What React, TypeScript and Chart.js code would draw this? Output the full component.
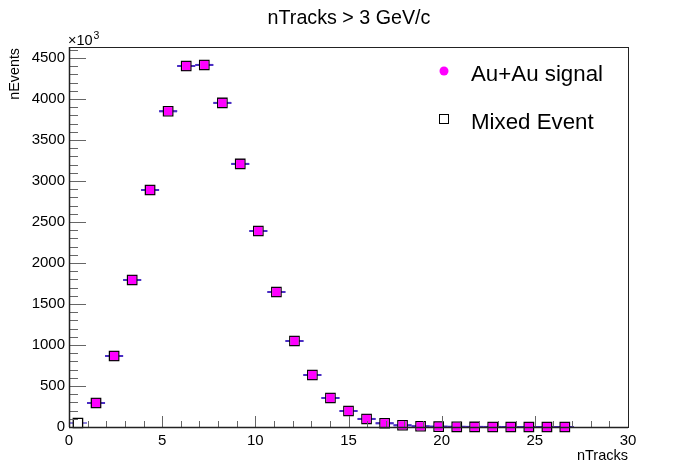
import React, { useEffect, useRef } from "react";
import { Chart, registerables } from "chart.js";

Chart.register(...registerables);

// Bin centres of the nTracks histogram (31 bins over 0..30; first 28 filled)
const binCenters = [
  0.48, 1.45, 2.42, 3.39, 4.35, 5.32, 6.29, 7.26, 8.23, 9.19, 10.16, 11.13, 12.1, 13.06,
  14.03, 15.0, 15.97, 16.94, 17.9, 18.87, 19.84, 20.81, 21.77, 22.74, 23.71, 24.68, 25.65, 26.61,
];
const binHalfWidth = 0.484;

// nEvents (x10^3)
const signalValues: (number | null)[] = [
  null, 293, 866, 1793, 2890, 3851, 4402, 4415, 3952, 3208, 2390, 1646, 1049, 634,
  354, 195, 98, 46, 21, 9, 4, 2, 1, 0.5, 0.3, 0.2, 0.1, 0.1,
];
const mixedValues: (number | null)[] = [
  49, 293, 866, 1793, 2890, 3851, 4402, 4415, 3952, 3208, 2390, 1646, 1049, 634,
  354, 195, 98, 46, 21, 9, 4, 2, 1, 0.5, 0.3, 0.2, 0.1, 0.1,
];

const xTickLabels = [0, 5, 10, 15, 20, 25, 30];
const yTickLabels = [0, 500, 1000, 1500, 2000, 2500, 3000, 3500, 4000, 4500];

const xMin = 0;
const xMax = 30;
const yMin = 0;
const yMax = 4634;
const xMajorStep = 5;
const xMinorStep = 1;
const yMajorStep = 500;
const yMinorStep = 100;

const titleText = "nTracks > 3 GeV/c";
const xTitle = "nTracks";
const yTitle = "nEvents";
const legendSignal = "Au+Au signal";
const legendMixed = "Mixed Event";

const FONT = "'Liberation Sans', Arial, Helvetica, sans-serif";

const toPoints = (vals: (number | null)[]) =>
  binCenters
    .map((x, i) => ({ x, y: vals[i] }))
    .filter((p) => p.y !== null) as { x: number; y: number }[];

const decorPlugin = {
  id: "rootDecor",
  beforeDatasetsDraw(chart: any) {
    const { ctx } = chart;
    const xs = chart.scales.x;
    const ys = chart.scales.y;
    ctx.save();
    ctx.lineWidth = 2;
    ctx.strokeStyle = "#8e80dc";
    mixedValues.forEach((v, i) => {
      if (v === null) return;
      const y = ys.getPixelForValue(v);
      ctx.beginPath();
      ctx.moveTo(xs.getPixelForValue(binCenters[i] - binHalfWidth), y);
      ctx.lineTo(xs.getPixelForValue(binCenters[i] + binHalfWidth), y);
      ctx.stroke();
    });
    ctx.strokeStyle = "#4a2dc4";
    signalValues.forEach((v, i) => {
      if (v === null) return;
      const y = ys.getPixelForValue(v);
      ctx.beginPath();
      ctx.moveTo(xs.getPixelForValue(binCenters[i] - binHalfWidth), y);
      ctx.lineTo(xs.getPixelForValue(binCenters[i] + binHalfWidth), y);
      ctx.stroke();
    });
    ctx.restore();
  },
  afterDraw(chart: any) {
    const { ctx, chartArea } = chart;
    const xs = chart.scales.x;
    const ys = chart.scales.y;
    const { left, right, top, bottom } = chartArea;
    ctx.save();

    // ticks
    ctx.strokeStyle = "#666";
    ctx.lineWidth = 1;
    for (let v = yMin; v <= yMax; v += yMinorStep) {
      const y = Math.round(ys.getPixelForValue(v)) + 0.5;
      const len = v % yMajorStep === 0 ? 17 : 9;
      ctx.beginPath();
      ctx.moveTo(left, y);
      ctx.lineTo(left + len, y);
      ctx.stroke();
    }
    for (let v = xMin; v <= xMax; v += xMinorStep) {
      const x = Math.round(xs.getPixelForValue(v)) + 0.5;
      const len = v % xMajorStep === 0 ? 11 : 6;
      ctx.beginPath();
      ctx.moveTo(x, bottom);
      ctx.lineTo(x, bottom - len);
      ctx.stroke();
    }

    // frame
    ctx.strokeStyle = "#222";
    ctx.lineWidth = 1;
    ctx.strokeRect(Math.round(left) + 0.5, Math.round(top) + 0.5, Math.round(right - left), Math.round(bottom - top));
    ctx.lineWidth = 1.5;
    ctx.beginPath();
    ctx.moveTo(left, Math.round(bottom) + 0.5);
    ctx.lineTo(right, Math.round(bottom) + 0.5);
    ctx.moveTo(Math.round(left) + 0.5, top);
    ctx.lineTo(Math.round(left) + 0.5, bottom);
    ctx.stroke();

    ctx.fillStyle = "#000";
    // title
    ctx.font = `19.7px ${FONT}`;
    ctx.textAlign = "center";
    ctx.textBaseline = "alphabetic";
    ctx.fillText(titleText, 349, 24);

    // x axis title
    ctx.font = `14.5px ${FONT}`;
    ctx.textAlign = "right";
    ctx.fillText(xTitle, right, 460);

    // y axis title
    ctx.save();
    ctx.translate(18.5, top + 1);
    ctx.rotate(-Math.PI / 2);
    ctx.font = `14.3px ${FONT}`;
    ctx.textAlign = "right";
    ctx.fillText(yTitle, 0, 0);
    ctx.restore();

    // x10^3
    ctx.font = `14.5px ${FONT}`;
    ctx.textAlign = "left";
    ctx.fillText("\u00d710", left - 1, 45);
    const w = ctx.measureText("\u00d710").width;
    ctx.font = `10.5px ${FONT}`;
    ctx.fillText("3", left - 1 + w + 1, 39);

    // legend
    ctx.fillStyle = "#ff00ff";
    ctx.beginPath();
    ctx.arc(444, 71, 4.5, 0, Math.PI * 2);
    ctx.fill();
    ctx.fillStyle = "#fff";
    ctx.strokeStyle = "#000";
    ctx.lineWidth = 1;
    ctx.fillRect(439.5, 114.5, 9, 9);
    ctx.strokeRect(439.5, 114.5, 9, 9);
    ctx.fillStyle = "#000";
    ctx.font = `22.3px ${FONT}`;
    ctx.textAlign = "left";
    ctx.fillText(legendSignal, 471, 81);
    ctx.fillText(legendMixed, 471, 129);

    ctx.restore();
  },
};

export default function App() {
  const canvasRef = useRef<HTMLCanvasElement | null>(null);

  useEffect(() => {
    document.body.style.margin = "0";
    const canvas = canvasRef.current;
    if (!canvas) return;
    const chart = new Chart(canvas, {
      type: "scatter",
      data: {
        datasets: [
          {
            label: legendSignal,
            data: toPoints(signalValues),
            pointStyle: "rect",
            pointRadius: 5.8,
            pointHoverRadius: 5.8,
            backgroundColor: "#ff00ff",
            borderWidth: 0,
            clip: false as any,
          },
          {
            label: legendMixed,
            data: toPoints(mixedValues),
            pointStyle: "rect",
            pointRadius: 6.6,
            pointHoverRadius: 6.6,
            backgroundColor: "#ffffff",
            borderColor: "#000000",
            pointBorderWidth: 1.3,
            borderWidth: 1.3,
            clip: false as any,
          },
        ],
      },
      plugins: [decorPlugin],
      options: {
        responsive: false,
        animation: false,
        devicePixelRatio: 1,
        layout: { padding: { left: 0, right: 70, top: 47, bottom: 0 } },
        plugins: {
          legend: { display: false },
          tooltip: { enabled: false },
          title: { display: false },
        },
        events: [],
        scales: {
          x: {
            type: "linear",
            min: xMin,
            max: xMax,
            grid: { display: false, drawTicks: false },
            border: { display: false },
            afterBuildTicks(scale: any) {
              scale.ticks = xTickLabels.map((v) => ({ value: v }));
            },
            ticks: {
              color: "#000",
              font: { family: FONT, size: 15 },
              padding: 5,
              maxRotation: 0,
              autoSkip: false,
              callback: (v: any) => String(v),
            },
            afterFit(scale: any) {
              scale.height = 48;
            },
          },
          y: {
            type: "linear",
            min: yMin,
            max: yMax,
            grid: { display: false, drawTicks: false },
            border: { display: false },
            afterBuildTicks(scale: any) {
              scale.ticks = yTickLabels.map((v) => ({ value: v }));
            },
            ticks: {
              color: "#000",
              font: { family: FONT, size: 15 },
              padding: 4,
              autoSkip: false,
              callback: (v: any) => String(v),
            },
            afterFit(scale: any) {
              scale.width = 69;
            },
          },
        },
      },
    });
    return () => chart.destroy();
  }, []);

  return (
    <div style={{ width: 698, height: 475 }}>
      <canvas ref={canvasRef} width={698} height={475} style={{ display: "block" }} />
    </div>
  );
}
